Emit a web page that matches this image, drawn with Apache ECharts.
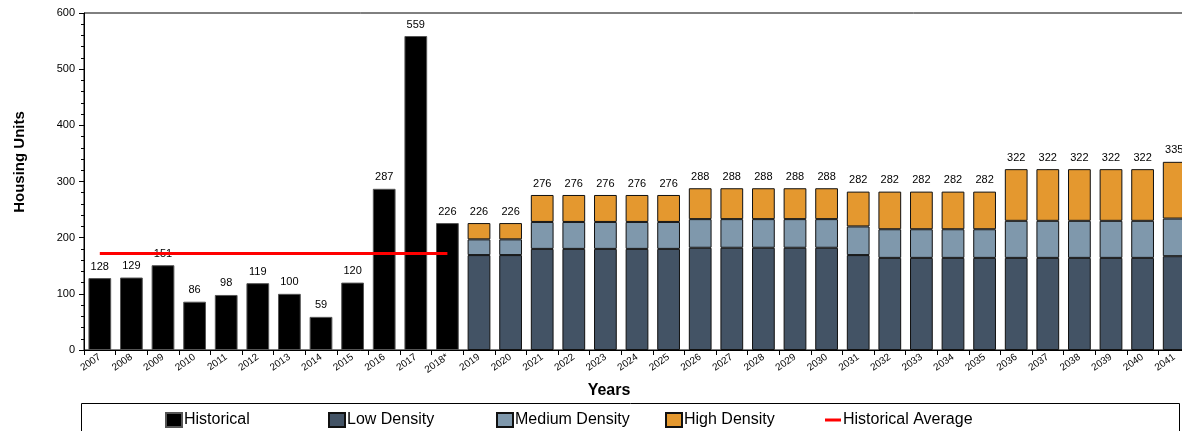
<!DOCTYPE html>
<html>
<head>
<meta charset="utf-8">
<script src="https://cdn.jsdelivr.net/npm/echarts@6/dist/echarts.min.js"></script>
<style>html,body{margin:0;padding:0;background:#fff;overflow:hidden;width:1182px;height:431px;}#c{width:1192px;height:431px;}</style>
</head>
<body>
<div id="c"></div>
<script>
var years = ['2007','2008','2009','2010','2011','2012','2013','2014','2015','2016','2017','2018*','2019','2020','2021','2022','2023','2024','2025','2026','2027','2028','2029','2030','2031','2032','2033','2034','2035','2036','2037','2038','2039','2040','2041'];
var historical = [128,129,151,86,98,119,100,59,120,287,559,226];
var lowDensity = [169,169,180,180,180,180,180,182,182,182,182,182,169,164,164,164,164,164,164,164,164,164,167];
var mediumDensity = [28,28,48,48,48,48,48,51,51,51,51,51,51,51,51,51,51,66,66,66,66,66,67];
var highDensity = [29,29,48,48,48,48,48,55,55,55,55,55,62,67,67,67,67,92,92,92,92,92,101];
var historicalAverage = 172;

var nHist = historical.length;
var nCat = years.length;
function pad(arr, before, total) {
  var out = [];
  for (var i = 0; i < total; i++) {
    var j = i - before;
    out.push(j >= 0 && j < arr.length ? arr[j] : null);
  }
  return out;
}
var histData = pad(historical, 0, nCat);
var lowData = pad(lowDensity, nHist, nCat);
var medData = pad(mediumDensity, nHist, nCat);
var highData = pad(highDensity, nHist, nCat);
var avgData = [];
for (var i = 0; i < nCat; i++) avgData.push(i < nHist ? historicalAverage : null);

var font = 'Liberation Sans, Arial, sans-serif';
var labelStyle = {show: true, position: 'top', color: '#000', fontSize: 11, fontFamily: font, distance: 6};

var chart = echarts.init(document.getElementById('c'));
function legendItem(name, left, extra) {
  var o = {
    data: [name], left: left, top: 407, itemWidth: 16, itemHeight: 14, itemGap: 0, icon: 'rect',
    textStyle: {fontSize: 16, fontFamily: font, color: '#000', padding: [0,0,0,-3]},
    selectedMode: false
  };
  if (extra) for (var k in extra) o[k] = extra[k];
  return o;
}
chart.setOption({
  animation: false,
  grid: {left: 84, width: 1106, top: 13, bottom: 81, show: true, borderColor: '#000', borderWidth: 1},
  graphic: [
    {type: 'rect', shape: {x: 81.5, y: 403.5, width: 1098, height: 40}, style: {fill: 'none', stroke: '#000', lineWidth: 1}},
    {type: 'text', x: 609, y: 391, style: {text: 'Years', font: 'bold 16px ' + font, fill: '#000', textAlign: 'center', textVerticalAlign: 'middle'}},
    {type: 'text', x: 20, y: 162, rotation: Math.PI / 2, style: {text: 'Housing Units', font: 'bold 15px ' + font, fill: '#000', textAlign: 'center', textVerticalAlign: 'middle'}}
  ],
  legend: [
    legendItem('Historical', 160),
    legendItem('Low Density', 323),
    legendItem('Medium Density', 491),
    legendItem('High Density', 660),
    legendItem('Historical Average', 820, {itemHeight: 3})
  ],
  xAxis: {
    type: 'category', data: years,
    axisLine: {lineStyle: {color: '#000', width: 1}},
    axisTick: {show: true, alignWithLabel: false, length: 5, lineStyle: {color: '#000'}},
    axisLabel: {rotate: 35, fontSize: 10, fontFamily: font, color: '#000', margin: 6, interval: 0}
  },
  yAxis: {
    type: 'value', min: 0, max: 600, interval: 100,
    axisLine: {show: true, lineStyle: {color: '#000', width: 1}},
    axisTick: {show: true, length: 5, lineStyle: {color: '#000'}},
    minorTick: {show: true, splitNumber: 5, length: 3, lineStyle: {color: '#000'}},
    splitLine: {show: false},
    axisLabel: {fontSize: 11, fontFamily: font, color: '#000', margin: 9}
  },
  series: [
    {name: 'Historical', type: 'bar', stack: 'a', data: histData, barCategoryGap: '28%',
     itemStyle: {color: '#000', borderColor: '#555', borderWidth: 1}, label: labelStyle},
    {name: 'Low Density', type: 'bar', stack: 'a', data: lowData,
     itemStyle: {color: '#435365', borderColor: '#111', borderWidth: 1}},
    {name: 'Medium Density', type: 'bar', stack: 'a', data: medData,
     itemStyle: {color: '#7f98ac', borderColor: '#111', borderWidth: 1}},
    {name: 'High Density', type: 'bar', stack: 'a', data: highData,
     itemStyle: {color: '#e4982f', borderColor: '#111', borderWidth: 1},
     label: Object.assign({}, labelStyle, {formatter: function (p) {
       var i = p.dataIndex; return (lowData[i] + medData[i] + highData[i]);
     }})},
    {name: 'Historical Average', type: 'line', data: avgData, symbol: 'none', z: 5,
     lineStyle: {color: '#ff0000', width: 3}, itemStyle: {color: '#ff0000'}}
  ]
});
</script>
</body>
</html>
